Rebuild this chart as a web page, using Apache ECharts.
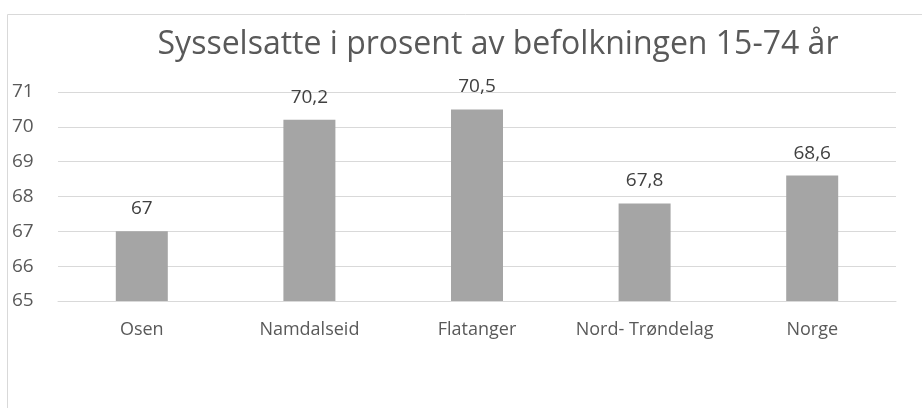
<!DOCTYPE html>
<html>
<head>
<meta charset="utf-8">
<script src="https://cdn.jsdelivr.net/npm/echarts@6/dist/echarts.min.js"></script>
<style>
  html, body { margin: 0; padding: 0; background: #fff; }
  #chart { width: 922px; height: 408px; }
</style>
</head>
<body>
<div id="chart"></div>
<script>
var titleText = 'Sysselsatte i prosent av befolkningen 15-74 år';
var categories = ['Osen', 'Namdalseid', 'Flatanger', 'Nord- Trøndelag', 'Norge'];
var values = [67, 70.2, 70.5, 67.8, 68.6];

var chart = echarts.init(document.getElementById('chart'));
var font = 'Open Sans';

chart.setOption({
    animation: false,
    graphic: [{
        type: 'rect',
        shape: { x: 7.5, y: 14.5, width: 930, height: 420 },
        style: { fill: 'none', stroke: '#d9d9d9', lineWidth: 1 },
        silent: true
    }],
    title: {
        text: titleText,
        left: 493,
        textAlign: 'center',
        top: 24,
        textStyle: { fontFamily: font, fontSize: 32, fontWeight: 'normal', color: '#595959' }
    },
    grid: { left: 58, right: 26, top: 92, bottom: 107 },
    xAxis: {
        type: 'category',
        data: categories,
        axisLine: { lineStyle: { color: '#d9d9d9' } },
        axisTick: { show: false },
        axisLabel: { fontFamily: font, fontSize: 18, color: '#595959', margin: 20, interval: 0 }
    },
    yAxis: {
        type: 'value',
        min: 65,
        max: 71,
        interval: 1,
        axisLine: { show: false },
        axisTick: { show: false },
        splitLine: { lineStyle: { color: '#d9d9d9' } },
        axisLabel: {
            fontFamily: font, fontSize: 19, color: '#595959',
            align: 'left', margin: 46
        }
    },
    series: [{
        type: 'bar',
        data: values,
        barWidth: 52,
        itemStyle: { color: '#a5a5a5' },
        label: {
            show: true,
            position: 'top',
            distance: 13,
            fontFamily: font,
            fontSize: 19,
            color: '#404040',
            formatter: function (p) { return String(p.value).replace('.', ','); }
        }
    }]
});
</script>
</body>
</html>
